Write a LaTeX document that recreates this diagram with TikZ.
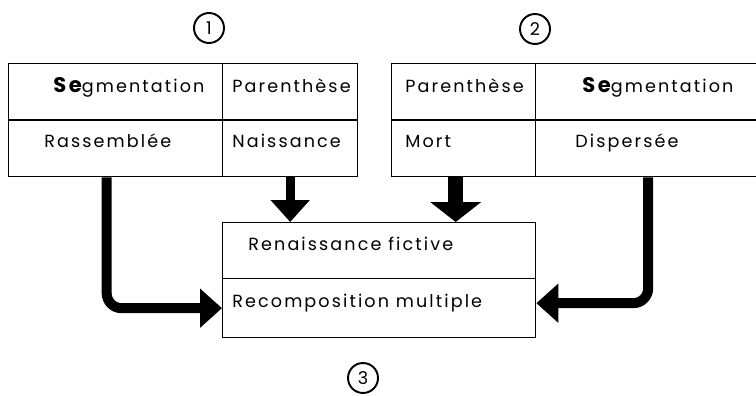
\documentclass[tikz,border=0pt]{standalone}
\usepackage{fontspec}
\setmainfont{Poppins}[LetterSpace=12]
\usetikzlibrary{arrows.meta,calc}

\tikzset{
  cell/.style={draw, line width=0.8pt, anchor=north west, inner sep=0pt},
  lbl/.style={anchor=base west, inner sep=0pt, font=\fontsize{10}{12}\selectfont},
  num/.style={draw, circle, line width=1.1pt, minimum size=0.6cm, inner sep=0pt,
    font=\fontsize{10}{12}\selectfont},
  fat/.style={line width=0.2cm, rounded corners=0.3cm,
    -{Triangle[length=0.44cm, width=0.76cm]}},
  fatter/.style={line width=0.3cm, -{Triangle[length=0.4cm, width=1.0cm]}}
}

\begin{document}
\begin{tikzpicture}[x=0.02cm, y=-0.02cm]
\useasboundingbox (0,0) rectangle (756,395);

% Tableau 1
\node[cell, minimum width=4.28cm, minimum height=1.13cm] (seg1) at (8,63) {};
\node[cell, minimum width=2.70cm, minimum height=1.13cm] (par1) at (222,63) {};
\node[cell, minimum width=4.28cm, minimum height=1.13cm] (ras) at (8,119.5) {};
\node[cell, minimum width=2.70cm, minimum height=1.13cm] (nai) at (222,119.5) {};

\node[lbl] (tseg1) at (53,92) {{\bfseries\fontsize{12}{12}\selectfont Se}gmentation};
\node[lbl] (tpar1) at (232,92) {Parenthèse};
\node[lbl] (tras) at (44,147) {Rassemblée};
\node[lbl] (tnai) at (232,147) {Naissance};

% Tableau 2
\node[cell, minimum width=2.88cm, minimum height=1.13cm] (par2) at (391,63) {};
\node[cell, minimum width=4.50cm, minimum height=1.13cm] (seg2) at (535,63) {};
\node[cell, minimum width=2.88cm, minimum height=1.13cm] (mort) at (391,119.5) {};
\node[cell, minimum width=4.50cm, minimum height=1.13cm] (dis) at (535,119.5) {};

\node[lbl] (tpar2) at (405,92) {Parenthèse};
\node[lbl] (tseg2) at (582,92) {{\bfseries\fontsize{12}{12}\selectfont Se}gmentation};
\node[lbl] (tmort) at (405,147) {Mort};
\node[lbl] (tdis) at (575,147) {Dispersée};

% Tableau 3
\node[cell, minimum width=6.26cm, minimum height=1.12cm] (ren) at (222,222) {};
\node[cell, minimum width=6.26cm, minimum height=1.18cm] (rec) at (222,278) {};

\node[lbl] (tren) at (248,250) {Renaissance fictive};
\node[lbl] (trec) at (232,307) {Recomposition multiple};

% Numeros
\node[num] (n1) at (209,28) {1};
\node[num] (n2) at (535,29) {2};
\node[num] (n3) at (363,378) {3};

% Fleches
\draw[fat] ([xshift=-0.18cm]ras.south) |- (rec.west);
\draw[fat, line width=0.18cm] (nai.south) -- (nai.south |- ren.north);
\draw[fatter] ([xshift=-0.16cm]mort.south) -- ([xshift=-0.16cm]mort.south |- ren.north);
\draw[fat] (dis.south) |- ([yshift=0.1cm]rec.east);

\end{tikzpicture}
\end{document}
